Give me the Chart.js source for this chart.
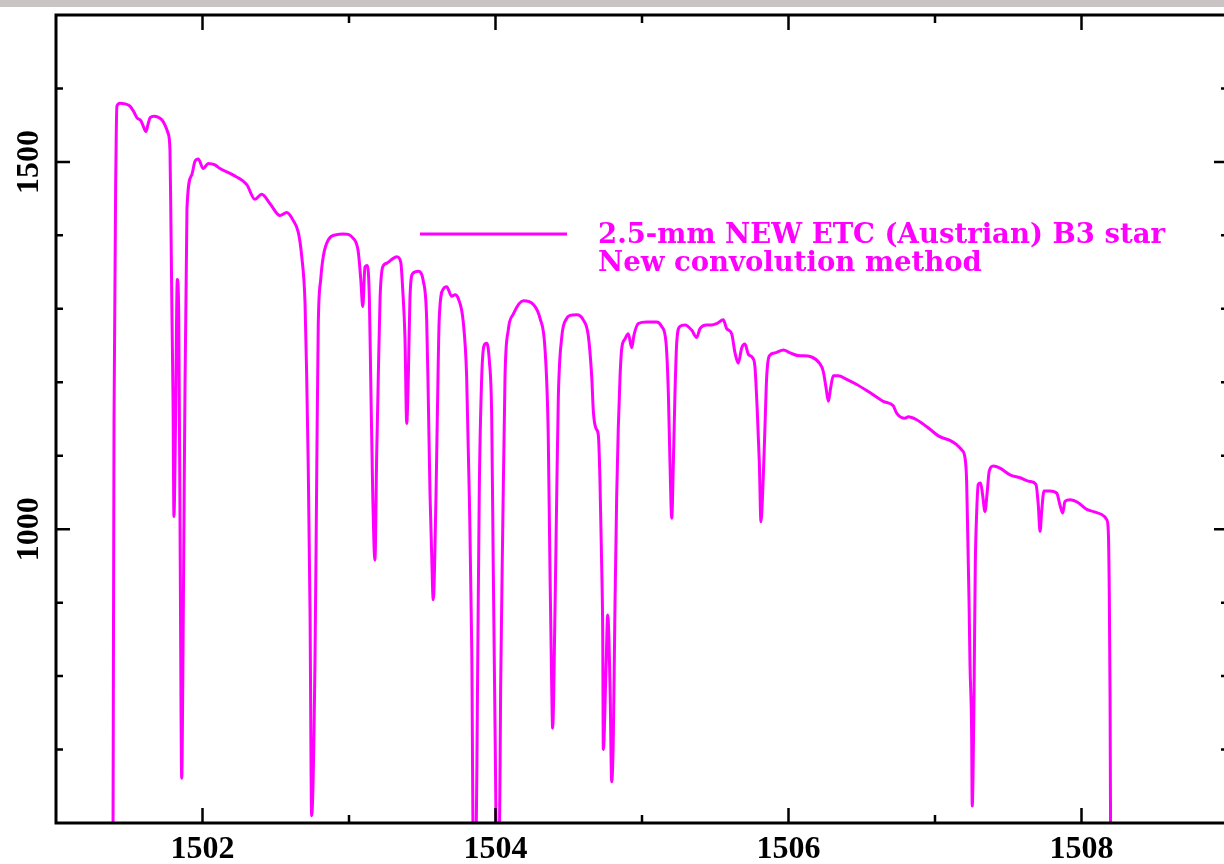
<!DOCTYPE html>
<html>
<head>
<meta charset="utf-8">
<script src="https://cdn.jsdelivr.net/npm/chart.js@4"></script>
<style>
  html, body { margin: 0; padding: 0; background: #fff; overflow: hidden; }
  #topbar { position: absolute; left: 0; top: 0; width: 100%; height: 7px; background: #c9c3c3; z-index: 2; }
  #wrap { position: absolute; left: 0; top: 0; width: 1240px; height: 864px; }
</style>
</head>
<body>
<div id="topbar"></div>
<div id="wrap"><canvas id="spec"></canvas></div>
<script>
// spectrum (wavelength, flux)
const wavelength = [
  1501.389, 1501.396, 1501.410, 1501.416, 1501.437, 1501.471, 1501.505, 1501.532, 1501.553, 1501.580,
  1501.601, 1501.614, 1501.628, 1501.642, 1501.669, 1501.696, 1501.724, 1501.744, 1501.765, 1501.778,
  1501.785, 1501.792, 1501.799, 1501.805, 1501.816, 1501.828, 1501.838, 1501.848, 1501.858, 1501.867,
  1501.877, 1501.894, 1501.926, 1501.949, 1501.971, 1502.005, 1502.040, 1502.085, 1502.119, 1502.210,
  1502.302, 1502.358, 1502.404, 1502.461, 1502.529, 1502.575, 1502.620, 1502.654, 1502.677, 1502.700,
  1502.711, 1502.722, 1502.734, 1502.745, 1502.768, 1502.780, 1502.790, 1502.807, 1502.825, 1502.859,
  1502.916, 1502.961, 1503.029, 1503.063, 1503.080, 1503.094, 1503.109, 1503.125, 1503.139, 1503.148,
  1503.162, 1503.177, 1503.189, 1503.200, 1503.212, 1503.230, 1503.257, 1503.291, 1503.326, 1503.353,
  1503.367, 1503.382, 1503.394, 1503.405, 1503.416, 1503.435, 1503.473, 1503.507, 1503.530, 1503.541,
  1503.553, 1503.564, 1503.575, 1503.594, 1503.603, 1503.616, 1503.644, 1503.667, 1503.701, 1503.724,
  1503.746, 1503.780, 1503.803, 1503.821, 1503.838, 1503.849, 1503.867, 1503.876, 1503.889, 1503.906,
  1503.922, 1503.940, 1503.958, 1503.974, 1503.985, 1503.997, 1504.008, 1504.026, 1504.035, 1504.049,
  1504.065, 1504.087, 1504.122, 1504.190, 1504.258, 1504.304, 1504.338, 1504.360, 1504.372, 1504.384,
  1504.390, 1504.406, 1504.418, 1504.429, 1504.452, 1504.486, 1504.509, 1504.554, 1504.599, 1504.633,
  1504.657, 1504.668, 1504.686, 1504.702, 1504.713, 1504.725, 1504.732, 1504.736, 1504.754, 1504.766,
  1504.782, 1504.793, 1504.804, 1504.816, 1504.827, 1504.838, 1504.850, 1504.861, 1504.884, 1504.906,
  1504.930, 1504.945, 1504.975, 1505.032, 1505.100, 1505.134, 1505.164, 1505.180, 1505.191, 1505.203,
  1505.214, 1505.225, 1505.237, 1505.259, 1505.294, 1505.339, 1505.373, 1505.396, 1505.442, 1505.476,
  1505.510, 1505.555, 1505.578, 1505.612, 1505.635, 1505.657, 1505.681, 1505.703, 1505.726, 1505.756,
  1505.771, 1505.787, 1505.801, 1505.812, 1505.827, 1505.839, 1505.851, 1505.869, 1505.908, 1505.965,
  1506.010, 1506.078, 1506.101, 1506.215, 1506.237, 1506.256, 1506.272, 1506.288, 1506.306, 1506.340,
  1506.397, 1506.466, 1506.556, 1506.647, 1506.715, 1506.738, 1506.795, 1506.818, 1506.875, 1506.920,
  1506.966, 1507.023, 1507.057, 1507.102, 1507.148, 1507.182, 1507.205, 1507.216, 1507.223, 1507.232,
  1507.239, 1507.250, 1507.254, 1507.266, 1507.275, 1507.284, 1507.295, 1507.311, 1507.325, 1507.341,
  1507.357, 1507.370, 1507.398, 1507.444, 1507.512, 1507.580, 1507.648, 1507.689, 1507.705, 1507.717,
  1507.728, 1507.744, 1507.785, 1507.831, 1507.853, 1507.872, 1507.887, 1507.922, 1507.978, 1508.036,
  1508.081, 1508.138, 1508.172, 1508.183, 1508.190, 1508.195, 1508.199
];
const flux = [
  560, 1147, 1516, 1576, 1580, 1579, 1576, 1568, 1560, 1556,
  1546, 1541, 1551, 1560, 1562, 1561, 1557, 1550, 1539, 1516,
  1407, 1284, 1174, 1017, 1146, 1340, 1288, 956, 661, 833,
  1106, 1437, 1482, 1501, 1504, 1491, 1498, 1496, 1491, 1482,
  1469, 1449, 1456, 1443, 1427, 1431, 1420, 1404, 1372, 1307,
  1210, 1082, 888, 610, 823, 1082, 1276, 1340, 1372, 1394,
  1401, 1402, 1396, 1378, 1341, 1303, 1357, 1359, 1314, 1208,
  1048, 958, 1101, 1208, 1314, 1357, 1362, 1367, 1371, 1364,
  1325, 1261, 1144, 1208, 1314, 1348, 1351, 1338, 1287, 1181,
  1048, 968, 904, 1048, 1154, 1287, 1327, 1330, 1317, 1319,
  1314, 1282, 1208, 1048, 835, 560, 560, 755, 1048, 1208,
  1250, 1253, 1229, 1154, 942, 729, 560, 560, 782, 995,
  1208, 1271, 1293, 1311, 1306, 1287, 1245, 1128, 942, 782,
  729, 888, 1048, 1181, 1261, 1287, 1291, 1292, 1285, 1264,
  1207, 1160, 1137, 1128, 1067, 949, 855, 700, 808, 883,
  785, 656, 714, 902, 1043, 1137, 1207, 1245, 1259, 1266,
  1247, 1264, 1280, 1282, 1282, 1276, 1254, 1184, 1090, 1015,
  1090, 1184, 1254, 1276, 1278, 1271, 1261, 1273, 1278, 1278,
  1280, 1285, 1273, 1266, 1240, 1226, 1247, 1252, 1238, 1233,
  1221, 1160, 1090, 1010, 1067, 1137, 1207, 1236, 1240, 1244,
  1240, 1236, 1236, 1225, 1215, 1193, 1174, 1193, 1209, 1209,
  1204, 1197, 1186, 1174, 1168, 1158, 1151, 1153, 1149, 1143,
  1136, 1127, 1124, 1121, 1115, 1108, 1097, 1065, 997, 906,
  815, 724, 623, 769, 951, 1020, 1061, 1063, 1047, 1024,
  1052, 1079, 1086, 1083, 1074, 1070, 1065, 1061, 1033, 997,
  1024, 1052, 1052, 1049, 1033, 1022, 1038, 1040, 1036, 1027,
  1024, 1020, 1013, 997, 906, 769, 560
];

const xTicks = [1502, 1503, 1504, 1505, 1506, 1507, 1508];
const xTickLabels = [1502, 1504, 1506, 1508];
const yTicks = [700, 800, 900, 1000, 1100, 1200, 1300, 1400, 1500, 1600];
const yTickLabels = [1000, 1500];
const legendLines = ['2.5-mm NEW ETC (Austrian) B3 star', 'New convolution method'];

const MAGENTA = '#ff00ff';

const pgFrame = {
  id: 'pgFrame',
  afterDatasetsDraw(chart) {
    const ctx = chart.ctx;
    const a = chart.chartArea;
    const xs = chart.scales.x, ys = chart.scales.y;
    ctx.save();
    ctx.strokeStyle = '#000';
    ctx.lineWidth = 3;
    ctx.strokeRect(a.left, a.top, a.right - a.left, a.bottom - a.top);

    // inward ticks on all four sides
    ctx.lineWidth = 2.5;
    ctx.beginPath();
    xTicks.forEach(v => {
      const px = xs.getPixelForValue(v);
      const len = xTickLabels.includes(v) ? 15 : 8;
      ctx.moveTo(px, a.bottom); ctx.lineTo(px, a.bottom - len);
      ctx.moveTo(px, a.top); ctx.lineTo(px, a.top + len);
    });
    yTicks.forEach(v => {
      const py = ys.getPixelForValue(v);
      const len = yTickLabels.includes(v) ? 14 : 7;
      ctx.moveTo(a.left, py); ctx.lineTo(a.left + len, py);
      ctx.moveTo(a.right, py); ctx.lineTo(a.right - len, py);
    });
    ctx.stroke();

    // tick labels
    ctx.fillStyle = '#000';
    ctx.font = 'bold 32px "Liberation Serif"';
    ctx.textAlign = 'center';
    ctx.textBaseline = 'alphabetic';
    xTickLabels.forEach(v => {
      ctx.fillText(String(v), xs.getPixelForValue(v), 858);
    });
    yTickLabels.forEach(v => {
      ctx.save();
      ctx.translate(38, ys.getPixelForValue(v));
      ctx.rotate(-Math.PI / 2);
      ctx.fillText(String(v), 0, 0);
      ctx.restore();
    });

    // legend
    ctx.strokeStyle = MAGENTA;
    ctx.lineWidth = 3;
    ctx.beginPath();
    ctx.moveTo(420, 234);
    ctx.lineTo(567, 234);
    ctx.stroke();
    ctx.fillStyle = MAGENTA;
    ctx.font = 'bold 28px "DejaVu Serif"';
    ctx.textAlign = 'left';
    const sx = 567 / ctx.measureText(legendLines[0]).width;
    legendLines.forEach((t, i) => {
      ctx.save();
      ctx.translate(598, 243 + i * 28);
      ctx.scale(sx, 1);
      ctx.fillText(t, 0, 0);
      ctx.restore();
    });
    ctx.restore();
  }
};

const ctx = document.getElementById('spec');
new Chart(ctx, {
  type: 'line',
  data: {
    datasets: [{
      label: legendLines[0],
      data: wavelength.map((w, i) => ({ x: w, y: flux[i] })),
      borderColor: MAGENTA,
      borderWidth: 3,
      pointRadius: 0,
      cubicInterpolationMode: 'monotone',
      fill: false
    }]
  },
  options: {
    responsive: true,
    maintainAspectRatio: false,
    animation: false,
    layout: { padding: { left: 56, top: 15, right: 12, bottom: 41 } },
    plugins: { legend: { display: false }, tooltip: { enabled: false } },
    scales: {
      x: { type: 'linear', min: 1501, max: 1509, display: false },
      y: { type: 'linear', min: 600, max: 1700, display: false }
    }
  },
  plugins: [pgFrame]
});
</script>
</body>
</html>
